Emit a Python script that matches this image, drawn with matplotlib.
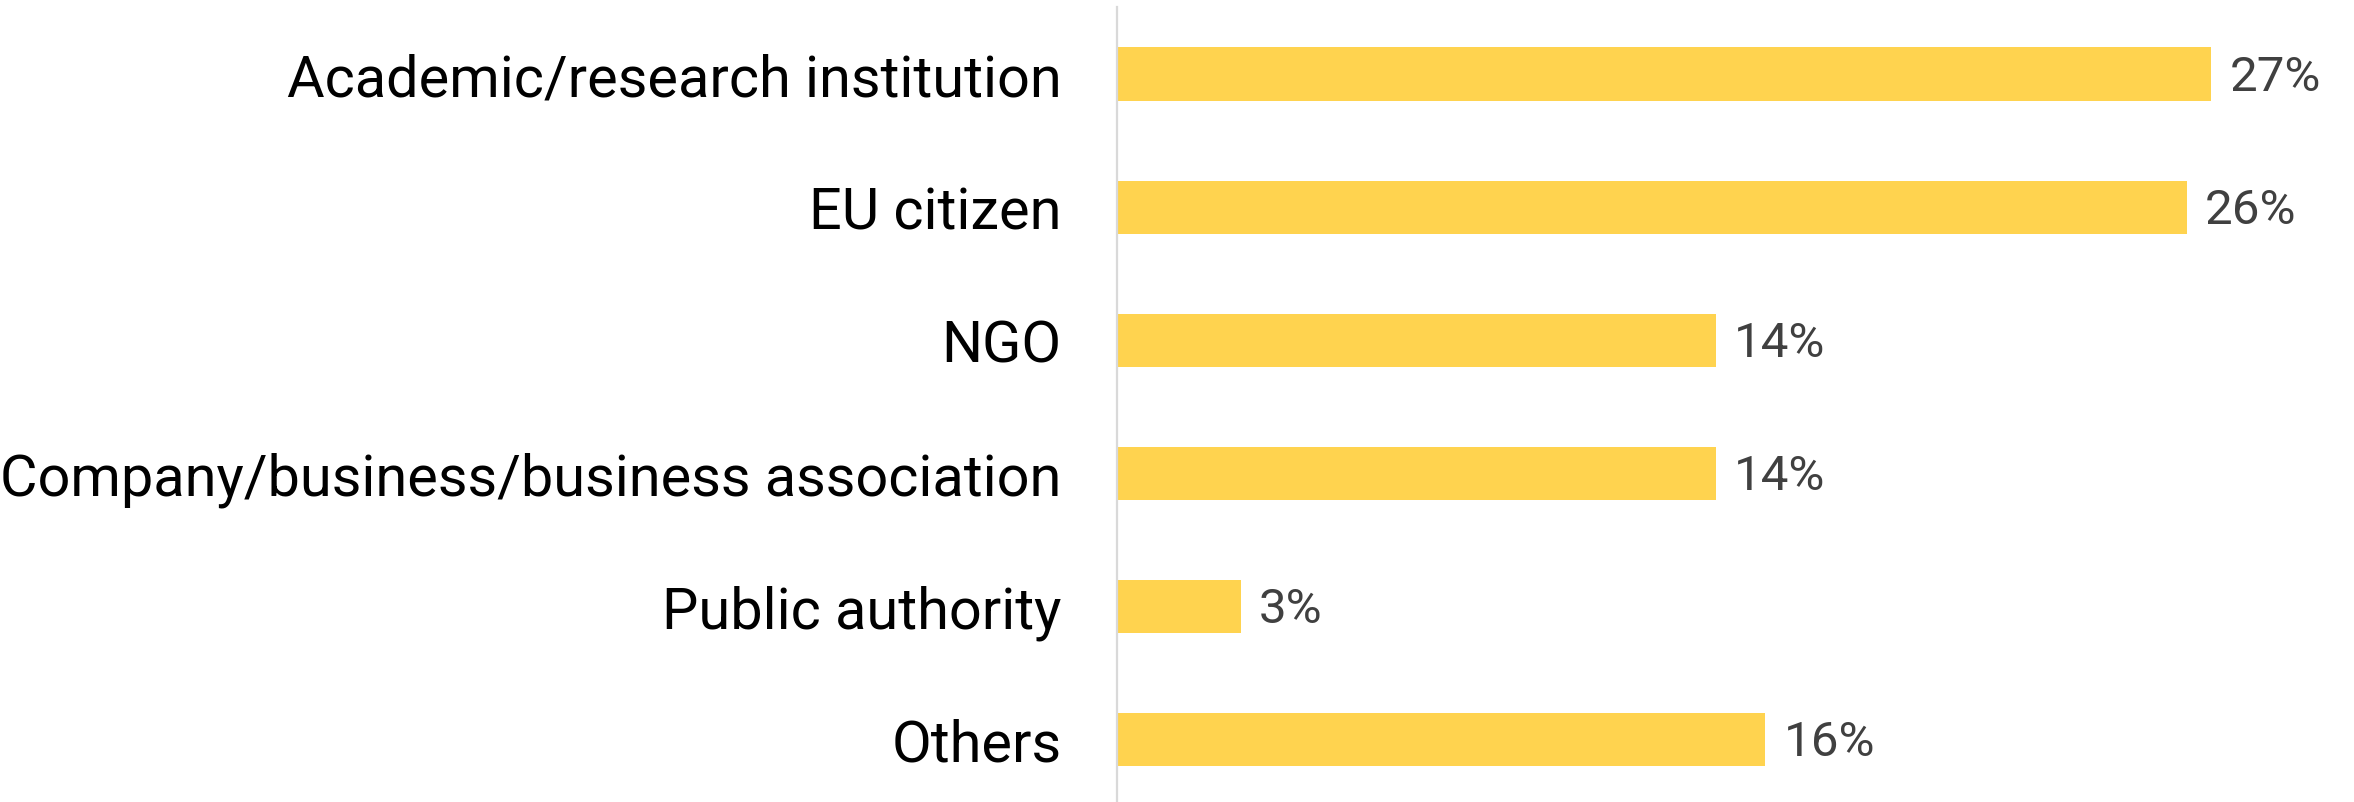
import matplotlib
matplotlib.use("Agg")
import matplotlib.pyplot as plt

categories = ["Academic/research institution", "EU citizen", "NGO",
              "Company/business/business association", "Public authority", "Others"]
values = [26.5, 25.9, 14.5, 14.5, 3.0, 15.7]
value_labels = ["27%", "26%", "14%", "14%", "3%", "16%"]

plt.rcParams['font.family'] = ['Roboto', 'DejaVu Sans']

fig = plt.figure(figsize=(23.54, 8.03), dpi=100)
ax = fig.add_axes([1117/2354, 0, 1 - 1117/2354, 795/803])

y = list(range(len(categories)))
ax.barh(y, values, height=0.4, color="#FFD34F", zorder=2)
ax.set_xlim(0, 1237/41.3)
ax.set_ylim(5.47, -0.504)

for yi, v, lab in zip(y, values, value_labels):
    ax.annotate(lab, (v, yi), xytext=(13, -2), textcoords="offset points",
                va="center", ha="left", fontsize=35.5, color="#404040")

ax.set_yticks(y)
ax.set_yticklabels(categories, fontsize=41.5, color="#000000")
ax.tick_params(axis="y", length=0, pad=40)
ax.tick_params(axis="x", bottom=False, labelbottom=False)
for s in ["top", "right", "bottom"]:
    ax.spines[s].set_visible(False)
ax.spines["left"].set_color("#D9D9D9")
ax.spines["left"].set_linewidth(1.6)

fig.savefig("out.png", dpi=100, facecolor="white")
